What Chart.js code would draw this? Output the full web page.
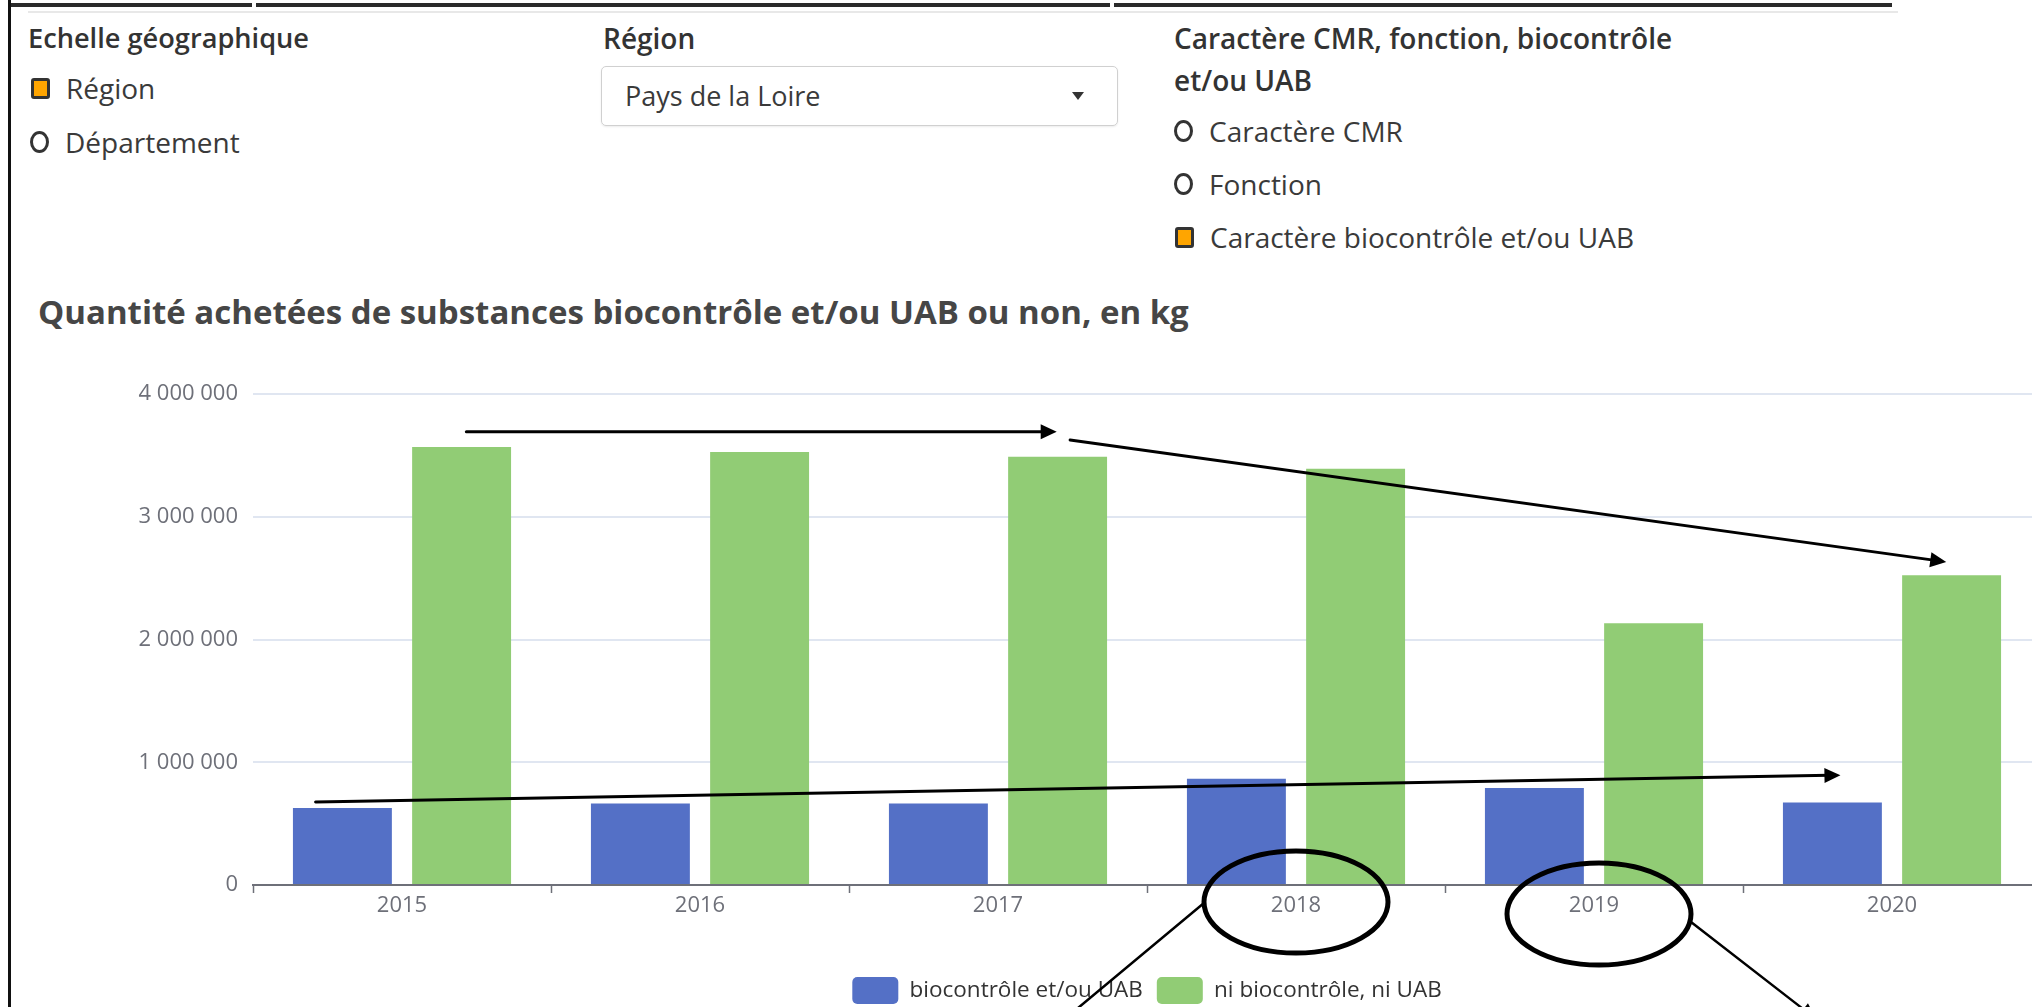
<!DOCTYPE html>
<html lang="fr">
<head>
<meta charset="utf-8">
<title>Quantité achetées de substances biocontrôle et/ou UAB ou non, en kg</title>
<script src="https://cdn.jsdelivr.net/npm/chart.js@4"></script>
<style>
  html, body { margin: 0; padding: 0; background: #fff; }
  body {
    width: 2032px; height: 1007px; overflow: hidden; position: relative;
    font-family: "Open Sans", sans-serif; color: #3a3a3a;
  }
  .frame-left { position: absolute; left: 8px; top: 0; width: 3px; height: 1007px; background: #111; }
  .frame-top { position: absolute; top: 3px; height: 4px; background: #2a2a2a; }
  .sep { position: absolute; left: 28px; top: 11px; width: 1870px; height: 2px; background: #e8e8e8; }
  .h, .opt { position: absolute; height: 40px; line-height: 40px; white-space: nowrap; }
  .h { font-weight: 600; font-size: 28px; color: #333; }
  .opt { font-size: 28px; display: flex; align-items: center; color: #3a3a3a; }
  .radio { width: 13px; height: 16px; border: 3.5px solid #333; border-radius: 50%; margin-right: 16px; }
  .check { width: 13px; height: 15px; border: 3.5px solid #333; border-radius: 3px; background: #ffa500; margin-right: 16px; }
  .select {
    position: absolute; left: 601px; top: 66px; width: 515px; height: 58px;
    border: 1px solid #d0d0d0; border-radius: 5px; box-shadow: 0 1px 2px rgba(0,0,0,.08);
  }
  .select span { position: absolute; left: 23px; top: 9px; line-height: 40px; font-size: 27px; color: #3a3a3a; }
  .select i {
    position: absolute; left: 470px; top: 25px; width: 0; height: 0;
    border-left: 6px solid transparent; border-right: 6px solid transparent; border-top: 8px solid #333;
  }
  .title {
    position: absolute; left: 38px; top: 290px; line-height: 44px;
    font-size: 33px; font-weight: 700; color: #464646; white-space: nowrap;
  }
  #chartBox { position: absolute; left: 30px; top: 350px; width: 2268px; height: 664px; }
</style>
</head>
<body>
  <div class="frame-top" style="left:10px;width:242px"></div>
  <div class="frame-top" style="left:256px;width:854px"></div>
  <div class="frame-top" style="left:1114px;width:778px"></div>
  <div class="sep"></div>
  <div class="frame-left"></div>

  <div class="h" style="left:28px;top:18px;font-size:27.2px">Echelle géographique</div>
  <div class="opt" style="left:31px;top:68px"><div class="check"></div>Région</div>
  <div class="opt" style="left:30px;top:122px"><div class="radio"></div>Département</div>

  <div class="h" style="left:603px;top:18px">Région</div>
  <div class="select"><span>Pays de la Loire</span><i></i></div>

  <div class="h" style="left:1174px;top:18px">Caractère CMR, fonction, biocontrôle</div>
  <div class="h" style="left:1174px;top:60px">et/ou UAB</div>
  <div class="opt" style="left:1174px;top:111px"><div class="radio"></div>Caractère CMR</div>
  <div class="opt" style="left:1174px;top:164px"><div class="radio"></div>Fonction</div>
  <div class="opt" style="left:1175px;top:217px"><div class="check"></div>Caractère biocontrôle et/ou UAB</div>

  <div class="title">Quantité achetées de substances biocontrôle et/ou UAB ou non, en kg</div>

  <div id="chartBox"><canvas id="qtyChart" width="2268" height="664"></canvas></div>

<script>
const years = ["2015", "2016", "2017", "2018", "2019", "2020"];
const bioValues = [628000, 664000, 664000, 865000, 791000, 672000];
const otherValues = [3568000, 3527000, 3489000, 3391000, 2132000, 2524000];
const seriesNames = ["biocontrôle et/ou UAB", "ni biocontrôle, ni UAB"];
const yMax = 4000000;
const yStep = 1000000;

const formatKg = (v) => String(v).replace(/\B(?=(\d{3})+(?!\d))/g, " ");

// hand-drawn marks that sit on top of the screenshot
const sketchMarks = {
  id: "sketchMarks",
  afterDraw(chart) {
    const ctx = chart.ctx;
    const xs = chart.scales.x;
    const ys = chart.scales.y;
    const step = xs.getPixelForValue(1) - xs.getPixelForValue(0);
    const px = (i) => xs.getPixelForValue(0) + i * step;
    const py = (v) => ys.getPixelForValue(v);
    const base = chart.chartArea.bottom;

    const arrow = (x1, y1, x2, y2, w, head) => {
      const a = Math.atan2(y2 - y1, x2 - x1);
      const c = Math.cos(a), s = Math.sin(a);
      ctx.lineWidth = w;
      ctx.beginPath();
      ctx.moveTo(x1, y1);
      ctx.lineTo(x2 - head * c * 0.7, y2 - head * s * 0.7);
      ctx.stroke();
      ctx.beginPath();
      ctx.moveTo(x2, y2);
      ctx.lineTo(x2 - head * c + 7.5 * s, y2 - head * s - 7.5 * c);
      ctx.lineTo(x2 - head * c - 7.5 * s, y2 - head * s + 7.5 * c);
      ctx.closePath();
      ctx.fill();
    };

    ctx.save();
    ctx.strokeStyle = "#000";
    ctx.fillStyle = "#000";
    ctx.lineCap = "round";

    arrow(px(0.216), py(3692000), px(2.197), py(3692000), 3, 16);
    arrow(px(2.242), py(3625000), px(5.182), py(2632000), 3, 16);
    arrow(px(-0.29), py(677000), px(4.827), py(895000), 3, 16);

    ctx.lineWidth = 5;
    ctx.beginPath();
    ctx.ellipse(px(3), base + 17, 92, 51, 0, 0, Math.PI * 2);
    ctx.stroke();
    ctx.beginPath();
    ctx.ellipse(px(4) + 5, base + 29, 92, 51, 0, 0, Math.PI * 2);
    ctx.stroke();

    ctx.lineWidth = 2.5;
    ctx.beginPath();
    ctx.moveTo(px(3) - 92, base + 18);
    ctx.lineTo(px(3) - 260, base + 158);
    ctx.stroke();
    arrow(px(4) + 97, base + 37, px(4) + 222, base + 134, 2.5, 16);
    ctx.restore();
  }
};

Chart.defaults.font.family = "Open Sans";
Chart.defaults.color = "#6E7079";

const qtyChart = new Chart(document.querySelector("#qtyChart").getContext("2d"), {
  type: "bar",
  data: {
    labels: years,
    datasets: [
      {
        label: seriesNames[0],
        data: bioValues,
        backgroundColor: "#5470c6",
        categoryPercentage: 0.8,
        barPercentage: 0.83,
      },
      {
        label: seriesNames[1],
        data: otherValues,
        backgroundColor: "#91cc75",
        categoryPercentage: 0.8,
        barPercentage: 0.83,
      },
    ],
  },
  options: {
    responsive: false,
    animation: false,
    layout: {
      padding: { top: 44, right: 257, bottom: 0, left: 0 },
    },
    scales: {
      x: {
        offset: true,
        grid: {
          display: true,
          offset: true,
          drawOnChartArea: false,
          drawTicks: true,
          tickLength: 8,
          tickColor: "#6E7079",
          tickWidth: 1.5,
        },
        border: { display: true, color: "#6E7079", width: 2 },
        ticks: { font: { size: 22 }, color: "#6E7079", padding: 0 },
        afterFit(s) { s.height = 78; },
      },
      y: {
        min: 0,
        max: yMax,
        grid: { color: "#E0E6F1", lineWidth: 2, drawTicks: false },
        border: { display: false },
        ticks: {
          stepSize: yStep,
          padding: 15,
          font: { size: 22 },
          color: "#6E7079",
          callback: (v) => formatKg(v),
        },
        afterFit(s) { s.width = 223; },
      },
    },
    plugins: {
      title: { display: false },
      tooltip: { enabled: false },
      legend: {
        display: true,
        position: "bottom",
        fullSize: false,
        labels: {
          boxWidth: 46,
          boxHeight: 27,
          useBorderRadius: true,
          borderRadius: 5,
          padding: 14,
          color: "#333",
          font: { size: 22.5 },
        },
      },
    },
  },
  plugins: [sketchMarks],
});
</script>
</body>
</html>
